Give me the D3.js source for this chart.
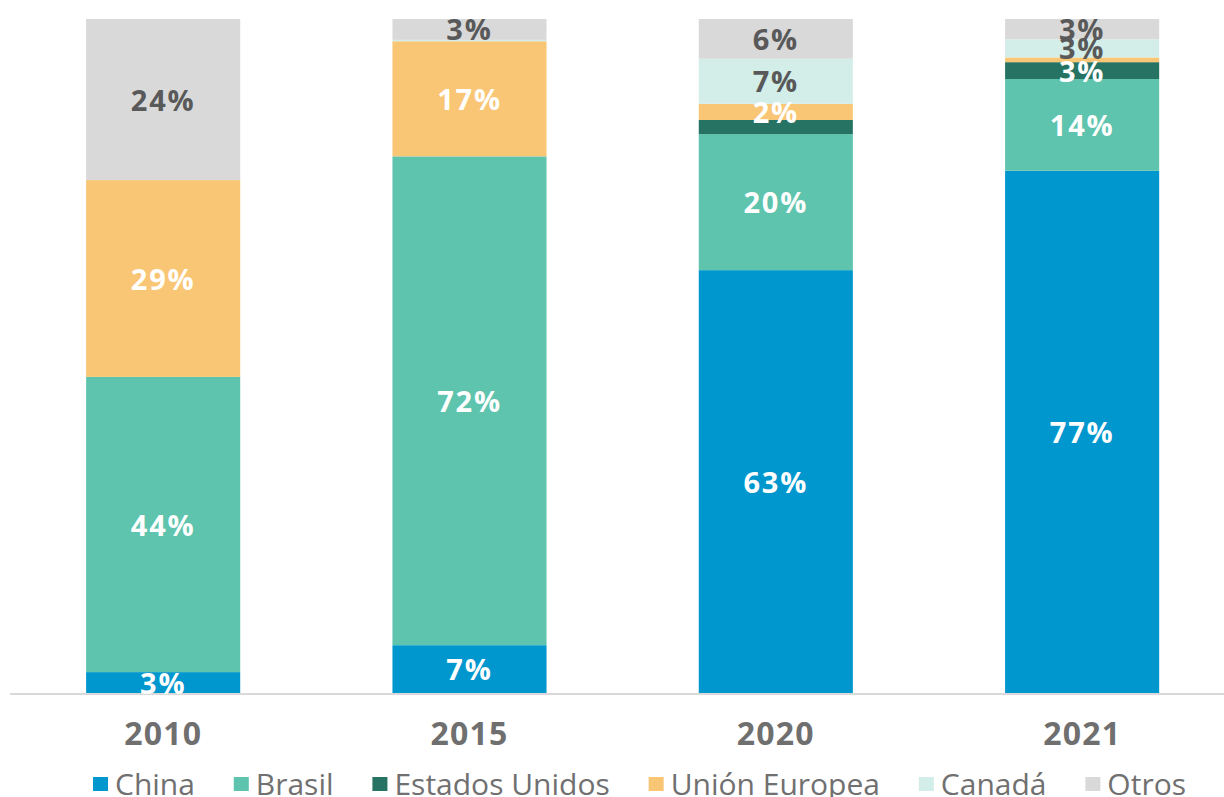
<!DOCTYPE html>
<html>
<head>
<meta charset="utf-8">
<script src="https://cdn.jsdelivr.net/npm/d3@7"></script>
<style>
  html, body { margin: 0; padding: 0; background: #fff; }
  svg { display: block; }
</style>
</head>
<body>
<svg id="chart" width="1224" height="797"></svg>
<script>
// ---- data ----
const years = ["2010", "2015", "2020", "2021"];
const seriesNames = ["China", "Brasil", "Estados Unidos", "Unión Europea", "Canadá", "Otros"];
const china  = [3.1, 7.1, 62.8, 77.4];
const brasil = [43.8, 72.6, 20.2, 13.6];
const eeuu   = [0, 0, 2.1, 2.5];
const ue     = [29.2, 17.1, 2.4, 0.7];
const canada = [0, 0.2, 6.7, 2.7];
const otros  = [23.9, 3.1, 5.9, 3.0];
// data labels as shown in the chart ("" = no label)
const labChina  = ["3%", "7%", "63%", "77%"];
const labBrasil = ["44%", "72%", "20%", "14%"];
const labEeuu   = ["", "", "", "3%"];
const labUe     = ["29%", "17%", "2%", ""];
const labCanada = ["", "", "7%", "3%"];
const labOtros  = ["24%", "3%", "6%", "3%"];

const colors = ["#0096CE", "#5EC4AE", "#267363", "#F9C676", "#D3EEE9", "#D9D9D9"];
const labelColors = ["#ffffff", "#ffffff", "#ffffff", "#ffffff", "#595959", "#595959"];

const valuesBySeries = [china, brasil, eeuu, ue, canada, otros];
const labelsBySeries = [labChina, labBrasil, labEeuu, labUe, labCanada, labOtros];

const table = years.map((y, i) => {
  const row = { year: y };
  seriesNames.forEach((s, k) => row[s] = valuesBySeries[k][i]);
  return row;
});

const stack = d3.stack().keys(seriesNames).offset(d3.stackOffsetExpand);
const stacked = stack(table);

const svg = d3.select("#chart");

const x = d3.scaleBand()
  .domain(years)
  .range([10, 1235.3])
  .paddingInner(0.497)
  .paddingOuter(0.2485);

const y = d3.scaleLinear().domain([0, 1]).range([693, 19]);

// bars
const layers = svg.append("g").selectAll("g.layer")
  .data(stacked)
  .join("g")
  .attr("class", "layer")
  .attr("fill", (d, k) => colors[k]);

layers.selectAll("rect")
  .data(d => d)
  .join("rect")
  .attr("x", d => x(d.data.year))
  .attr("width", x.bandwidth())
  .attr("y", d => y(d[1]))
  .attr("height", d => Math.max(0, y(d[0]) - y(d[1])));

// baseline axis
const xAxis = d3.axisBottom(x).tickSize(0).tickPadding(0);
const axisG = svg.append("g").attr("transform", "translate(0,694)").call(xAxis);
axisG.select(".domain").attr("stroke", "#d9d9d9").attr("stroke-width", 2)
  .attr("d", "M10,0H1224");
axisG.selectAll(".tick text")
  .attr("y", 40)
  .attr("dy", "0.35em")
  .attr("font-family", "'Open Sans', sans-serif")
  .attr("font-weight", 700)
  .attr("font-size", 32)
  .attr("letter-spacing", 1.2)
  .attr("fill", "#6f6f6f");

// data labels
const labelsG = svg.append("g");
stacked.forEach((layer, k) => {
  labelsG.selectAll(null)
    .data(layer.map((d, i) => ({ d, i })))
    .join("text")
    .filter(o => labelsBySeries[k][o.i] !== "")
    .attr("x", o => x(o.d.data.year) + x.bandwidth() / 2)
    .attr("y", o => (y(o.d[0]) + y(o.d[1])) / 2)
    .attr("dy", "0.38em")
    .attr("text-anchor", "middle")
    .attr("font-family", "'Open Sans', sans-serif")
    .attr("font-weight", 700)
    .attr("font-size", 29)
    .attr("letter-spacing", 1.8)
    .attr("fill", labelColors[k])
    .text(o => labelsBySeries[k][o.i]);
});

// legend
const legend = svg.append("g");
const items = legend.selectAll("g")
  .data(seriesNames)
  .join("g");
items.append("rect")
  .attr("width", 15).attr("height", 14)
  .attr("y", 777)
  .attr("fill", (d, k) => colors[k]);
items.append("text")
  .attr("x", 22)
  .attr("y", 795)
  .attr("font-family", "'Open Sans', sans-serif")
  .attr("font-size", 30)
  .attr("fill", "#707070")
  .text(d => d);
const widths = [];
items.each(function() {
  const w = this.querySelector("text").getComputedTextLength();
  widths.push(22 + w);
});
const legLeft = 93, legRight = 1186;
const gap = (legRight - legLeft - d3.sum(widths)) / (widths.length - 1);
let cx = legLeft;
items.attr("transform", (d, k) => {
  const t = `translate(${cx},0)`;
  cx += widths[k] + gap;
  return t;
});
</script>
</body>
</html>
